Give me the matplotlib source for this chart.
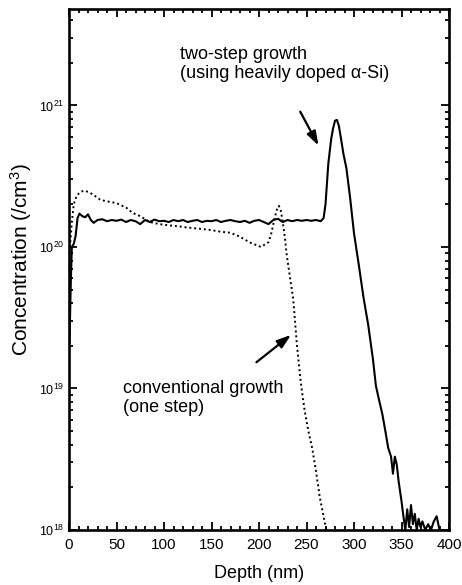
import numpy as np
import matplotlib
matplotlib.use('Agg')
import matplotlib.pyplot as plt
from matplotlib.ticker import FixedLocator, LogLocator, NullFormatter, MultipleLocator

plt.rcParams['font.family'] = ['Liberation Sans', 'DejaVu Sans']
plt.rcParams['mathtext.default'] = 'regular'

# two-step growth (solid)
two_depth = [0, 1, 2, 3, 5, 7, 9, 11, 14, 17, 20, 23, 26, 30, 35, 40, 45, 50, 55, 60,
             65, 70, 75, 80, 85, 90, 95, 100, 105, 110, 115, 120, 125, 130, 135, 140,
             145, 150, 155, 160, 165, 170, 175, 180, 185, 190, 195, 200, 205, 210, 215,
             220, 225, 230, 235, 240, 245, 250, 255, 260, 265, 268, 270, 273, 276, 278,
             280, 282, 284, 286, 289, 292, 296, 300, 305, 310, 315, 320, 323, 326, 330,
             333, 336, 339, 341, 343, 345, 347, 350, 352, 354, 356, 358, 360, 362, 364,
             366, 368, 370, 372, 375, 378, 381, 384, 387, 390]
two_conc = [1.7e19, 3e19, 6e19, 1.0e20, 1.05e20, 1.2e20, 1.6e20, 1.72e20, 1.65e20, 1.62e20,
            1.7e20, 1.55e20, 1.48e20, 1.55e20, 1.57e20, 1.52e20, 1.55e20, 1.53e20, 1.56e20,
            1.50e20, 1.55e20, 1.52e20, 1.45e20, 1.55e20, 1.50e20, 1.56e20, 1.52e20, 1.53e20,
            1.50e20, 1.55e20, 1.52e20, 1.55e20, 1.50e20, 1.53e20, 1.55e20, 1.50e20, 1.53e20,
            1.52e20, 1.55e20, 1.50e20, 1.53e20, 1.55e20, 1.52e20, 1.50e20, 1.53e20, 1.48e20,
            1.53e20, 1.55e20, 1.50e20, 1.45e20, 1.55e20, 1.58e20, 1.50e20, 1.55e20, 1.52e20,
            1.55e20, 1.53e20, 1.55e20, 1.53e20, 1.55e20, 1.52e20, 1.6e20, 2.0e20, 3.9e20,
            5.8e20, 6.9e20, 7.8e20, 7.9e20, 7.2e20, 6.0e20, 4.5e20, 3.6e20, 2.2e20, 1.25e20,
            7.5e19, 4.4e19, 2.8e19, 1.6e19, 1.05e19, 8.5e18, 6.5e18, 5.0e18, 3.8e18, 3.3e18,
            2.5e18, 3.3e18, 2.9e18, 2.2e18, 1.6e18, 1.25e18, 1.0e18, 1.4e18, 1.05e18, 1.5e18,
            1.1e18, 1.3e18, 1.0e18, 1.2e18, 1.05e18, 1.15e18, 1.0e18, 1.1e18, 1.0e18, 1.15e18,
            1.25e18, 1.0e18]

# conventional growth (dotted)
conv_depth = [1, 3, 5, 8, 12, 16, 20, 25, 33, 40, 50, 60, 67, 75, 85, 95, 105, 115, 125,
              135, 148, 160, 170, 180, 191, 202, 210, 213, 216, 219, 221, 223, 225, 227,
              229, 232, 236, 240, 244, 248, 252, 256, 260, 264, 267, 269, 271]
conv_conc = [1.0e20, 1.5e20, 2.0e20, 2.3e20, 2.45e20, 2.5e20, 2.45e20, 2.35e20, 2.15e20,
             2.1e20, 2.04e20, 1.9e20, 1.74e20, 1.65e20, 1.5e20, 1.45e20, 1.42e20, 1.4e20,
             1.37e20, 1.35e20, 1.32e20, 1.28e20, 1.26e20, 1.18e20, 1.07e20, 1.0e20, 1.08e20,
             1.25e20, 1.55e20, 1.85e20, 1.95e20, 1.8e20, 1.5e20, 1.2e20, 9e19, 6.5e19,
             4.3e19, 2.0e19, 1.1e19, 7e18, 5e18, 3.8e18, 2.6e18, 1.7e18, 1.35e18, 1.15e18,
             1.0e18]

fig = plt.figure(figsize=(4.62, 5.85), dpi=100)
ax = fig.add_axes([69 / 462, 1 - 530 / 585, 380 / 462, 521 / 585])
ax.plot(two_depth, two_conc, color='black', lw=1.5)
ax.plot(conv_depth, conv_conc, color='black', lw=1.4, linestyle=(0, (1, 1.5)))
ax.set_yscale('log')
ax.set_xlim(0, 400)
ax.set_ylim(1e18, 4.8e21)

ax.xaxis.set_major_locator(MultipleLocator(50))
ax.xaxis.set_minor_locator(MultipleLocator(10))
ax.yaxis.set_major_locator(FixedLocator([1e18, 1e19, 1e20, 1e21]))
ax.set_yticklabels(['$10^{18}$', '$10^{19}$', '$10^{20}$', '$10^{21}$'], fontsize=9)
ax.yaxis.set_minor_locator(LogLocator(base=10, subs=np.arange(2, 10)))
ax.yaxis.set_minor_formatter(NullFormatter())
ax.tick_params(which='both', direction='in', top=True, right=True, width=1.3)
ax.tick_params(which='major', length=6)
ax.tick_params(axis='x', which='major', labelsize=11, pad=6)
ax.tick_params(axis='y', which='major', labelsize=9)
ax.tick_params(which='minor', length=3)
for s in ax.spines.values():
    s.set_linewidth(1.9)

ax.set_xlabel('Depth (nm)', fontsize=13, labelpad=9)
ax.set_ylabel('Concentration (/cm$^3$)', fontsize=15)
ax.yaxis.set_label_coords(-0.092, 0.52)

ax.text(117, 1.96e21, 'two-step growth\n(using heavily doped \u03b1-Si)', fontsize=13,
        ha='left', va='center', linespacing=1.15)
ax.text(57, 8.6e18, 'conventional growth\n(one step)', fontsize=13,
        ha='left', va='center', linespacing=1.15)
ax.annotate('', xy=(264, 5.0e20), xytext=(242, 9.4e20),
            arrowprops=dict(arrowstyle='-|>,head_length=0.6,head_width=0.2',
                            color='black', lw=1.6, mutation_scale=14))
ax.annotate('', xy=(236, 2.46e19), xytext=(195, 1.49e19),
            arrowprops=dict(arrowstyle='-|>,head_length=0.6,head_width=0.2',
                            color='black', lw=1.6, mutation_scale=14))

fig.savefig('out.png', dpi=100)
